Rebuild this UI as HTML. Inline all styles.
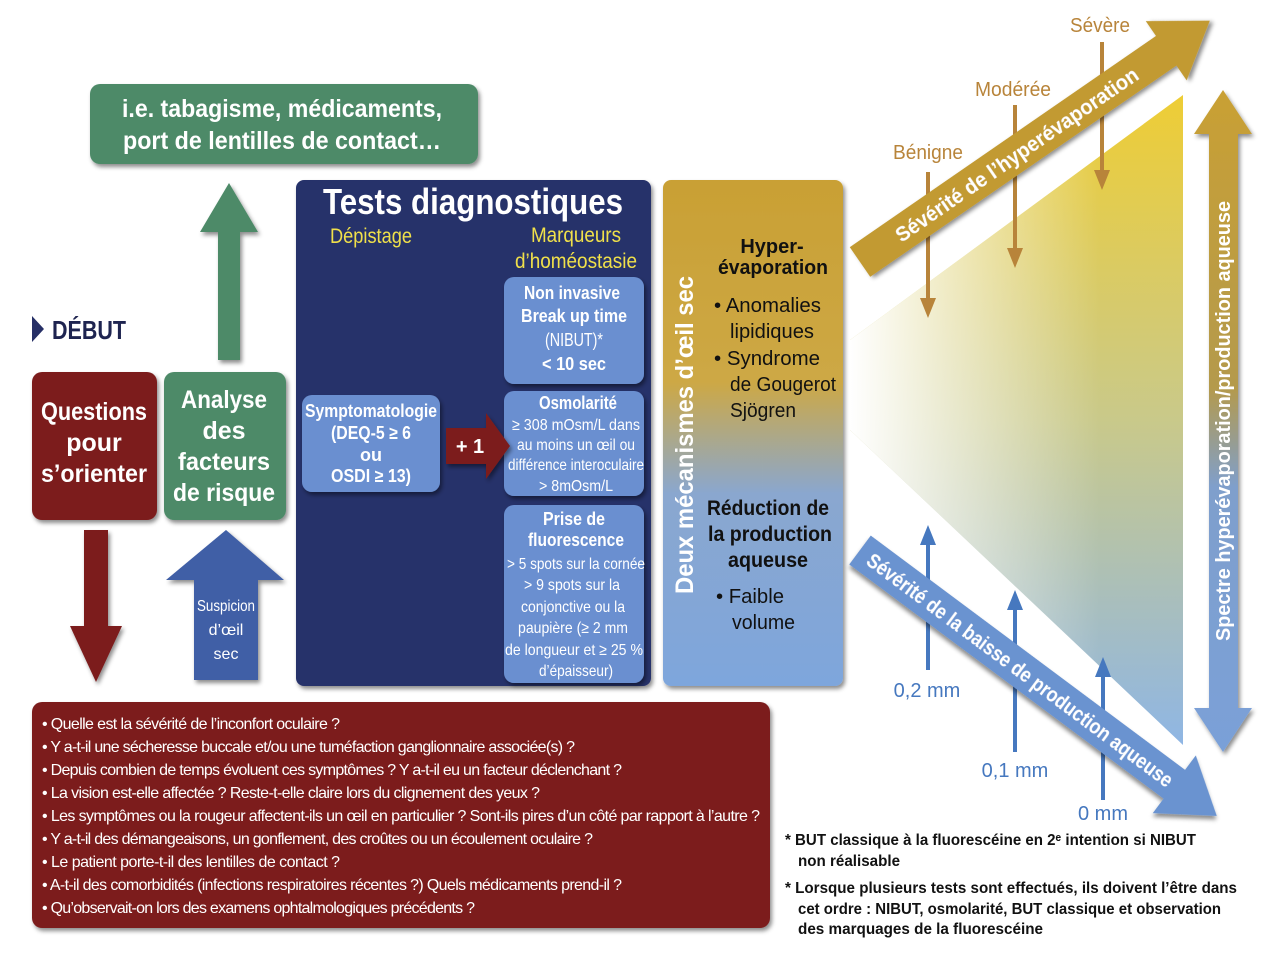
<!DOCTYPE html>
<html><head><meta charset="utf-8"><style>
html,body{margin:0;padding:0;background:#fff}
svg{display:block}
text{font-family:"Liberation Sans",sans-serif}
.w{fill:#fff;font-weight:bold}
.wn{fill:#fff}
</style></head><body>
<svg width="1280" height="955" viewBox="0 0 1280 955" xmlns="http://www.w3.org/2000/svg">
<defs>
<linearGradient id="vg" x1="0" y1="95" x2="0" y2="745" gradientUnits="userSpaceOnUse">
<stop offset="0" stop-color="#eecd35"/><stop offset="0.5" stop-color="#c9c98a"/><stop offset="1" stop-color="#8fb6e4"/></linearGradient>
<linearGradient id="hg" x1="850" y1="0" x2="1100" y2="0" gradientUnits="userSpaceOnUse">
<stop offset="0" stop-color="#fff" stop-opacity="1"/><stop offset="1" stop-color="#fff" stop-opacity="0"/></linearGradient>
<linearGradient id="mech" x1="0" y1="180" x2="0" y2="686" gradientUnits="userSpaceOnUse">
<stop offset="0" stop-color="#c9a034"/><stop offset="0.4" stop-color="#cda845"/><stop offset="0.62" stop-color="#8aa7cf"/><stop offset="1" stop-color="#7ea6dc"/></linearGradient>
<linearGradient id="dbl" x1="0" y1="90" x2="0" y2="752" gradientUnits="userSpaceOnUse">
<stop offset="0" stop-color="#c9a034"/><stop offset="0.45" stop-color="#b49a4c"/><stop offset="0.6" stop-color="#7f9fcc"/><stop offset="1" stop-color="#7aa0d8"/></linearGradient>
<filter id="sh" x="-10%" y="-10%" width="130%" height="130%"><feDropShadow dx="2" dy="3" stdDeviation="2" flood-opacity="0.45"/></filter>
</defs>

<!-- right triangle -->
<polygon points="850,340 1183,95 1183,745 850,430" fill="url(#vg)"/>
<polygon points="850,340 1183,95 1183,745 850,430" fill="url(#hg)"/>

<!-- green top box -->
<rect x="90" y="84" width="388" height="80" rx="10" fill="#4d8a68" filter="url(#sh)"/>
<text class="w" x="282" y="117" font-size="25" text-anchor="middle" textLength="320" lengthAdjust="spacingAndGlyphs">i.e. tabagisme, médicaments,</text>
<text class="w" x="282" y="149" font-size="25" text-anchor="middle" textLength="318" lengthAdjust="spacingAndGlyphs">port de lentilles de contact…</text>

<polygon points="218,360 240,360 240,232 258,232 229,183 200,232 218,232" fill="#4d8a68" filter="url(#sh)"/>

<polygon points="32,316 44,329 32,342" fill="#262f66"/>
<text x="52" y="339" font-size="26" font-weight="bold" fill="#1e2450" textLength="74" lengthAdjust="spacingAndGlyphs">DÉBUT</text>

<rect x="32" y="372" width="125" height="148" rx="10" fill="#7b1f1f" filter="url(#sh)"/>
<text class="w" font-size="25" text-anchor="middle"><tspan x="94" y="420" textLength="106" lengthAdjust="spacingAndGlyphs">Questions</tspan><tspan x="94" y="451">pour</tspan><tspan x="94" y="482" textLength="106" lengthAdjust="spacingAndGlyphs">s’orienter</tspan></text>

<rect x="164" y="372" width="122" height="148" rx="10" fill="#4d8a68" filter="url(#sh)"/>
<text class="w" font-size="25" text-anchor="middle"><tspan x="224" y="408" textLength="86" lengthAdjust="spacingAndGlyphs">Analyse</tspan><tspan x="224" y="439">des</tspan><tspan x="224" y="470" textLength="92" lengthAdjust="spacingAndGlyphs">facteurs</tspan><tspan x="224" y="501" textLength="102" lengthAdjust="spacingAndGlyphs">de risque</tspan></text>

<polygon points="84,530 108,530 108,626 122,626 96,682 70,626 84,626" fill="#7b1f1f" filter="url(#sh)"/>

<polygon points="194,680 258,680 258,580 284,580 226,530 166,580 194,580" fill="#3f5ea6" filter="url(#sh)"/>
<text class="wn" font-size="16" text-anchor="middle"><tspan x="226" y="611" textLength="58" lengthAdjust="spacingAndGlyphs">Suspicion</tspan><tspan x="226" y="635">d’œil</tspan><tspan x="226" y="659">sec</tspan></text>

<rect x="296" y="180" width="355" height="506" rx="8" fill="#27306a" filter="url(#sh)"/>
<text class="w" x="473" y="214" font-size="36" text-anchor="middle" textLength="300" lengthAdjust="spacingAndGlyphs">Tests diagnostiques</text>
<text x="371" y="243" font-size="21" fill="#f0e04a" text-anchor="middle" textLength="82" lengthAdjust="spacingAndGlyphs">Dépistage</text>
<text x="576" y="242" font-size="21" fill="#f0e04a" text-anchor="middle" textLength="90" lengthAdjust="spacingAndGlyphs">Marqueurs</text>
<text x="576" y="268" font-size="21" fill="#f0e04a" text-anchor="middle" textLength="122" lengthAdjust="spacingAndGlyphs">d’homéostasie</text>

<g fill="#6a8fd0" filter="url(#sh)">
<rect x="504" y="277" width="140" height="107" rx="10"/>
<rect x="504" y="391" width="140" height="105" rx="10"/>
<rect x="504" y="505" width="140" height="178" rx="10"/>
<rect x="302" y="395" width="138" height="97" rx="10"/>
</g>
<text class="w" font-size="18" text-anchor="middle"><tspan x="572" y="299" textLength="96" lengthAdjust="spacingAndGlyphs">Non invasive</tspan><tspan x="574" y="322" textLength="106" lengthAdjust="spacingAndGlyphs">Break up time</tspan></text>
<text class="wn" x="574" y="346" font-size="18" text-anchor="middle" textLength="58" lengthAdjust="spacingAndGlyphs">(NIBUT)*</text>
<text class="w" x="574" y="370" font-size="18" text-anchor="middle" textLength="64" lengthAdjust="spacingAndGlyphs">&lt; 10 sec</text>

<text class="w" x="578" y="409" font-size="18" text-anchor="middle" textLength="78" lengthAdjust="spacingAndGlyphs">Osmolarité</text>
<text class="wn" font-size="16" text-anchor="middle"><tspan x="576" y="430" textLength="128" lengthAdjust="spacingAndGlyphs">≥ 308 mOsm/L dans</tspan><tspan x="576" y="450" textLength="118" lengthAdjust="spacingAndGlyphs">au moins un œil ou</tspan><tspan x="576" y="470" textLength="136" lengthAdjust="spacingAndGlyphs">différence interoculaire</tspan><tspan x="576" y="491" textLength="74" lengthAdjust="spacingAndGlyphs">&gt; 8mOsm/L</tspan></text>

<text class="w" font-size="18" text-anchor="middle"><tspan x="574" y="525" textLength="62" lengthAdjust="spacingAndGlyphs">Prise de</tspan><tspan x="576" y="546" textLength="96" lengthAdjust="spacingAndGlyphs">fluorescence</tspan></text>
<text class="wn" font-size="16" text-anchor="middle"><tspan x="576" y="569" textLength="138" lengthAdjust="spacingAndGlyphs">&gt; 5 spots sur la cornée</tspan><tspan x="572" y="590" textLength="96" lengthAdjust="spacingAndGlyphs">&gt; 9 spots sur la</tspan><tspan x="573" y="612" textLength="104" lengthAdjust="spacingAndGlyphs">conjonctive ou la</tspan><tspan x="573" y="633" textLength="110" lengthAdjust="spacingAndGlyphs">paupière (≥ 2 mm</tspan><tspan x="574" y="655" textLength="138" lengthAdjust="spacingAndGlyphs">de longueur et ≥ 25 %</tspan><tspan x="576" y="676" textLength="74" lengthAdjust="spacingAndGlyphs">d’épaisseur)</tspan></text>

<text class="w" font-size="18" text-anchor="middle"><tspan x="371" y="417" textLength="132" lengthAdjust="spacingAndGlyphs">Symptomatologie</tspan><tspan x="371" y="439" textLength="80" lengthAdjust="spacingAndGlyphs">(DEQ-5 ≥ 6</tspan><tspan x="371" y="461">ou</tspan><tspan x="371" y="482" textLength="80" lengthAdjust="spacingAndGlyphs">OSDI ≥ 13)</tspan></text>

<polygon points="446,428 486,428 486,413 510,446 486,479 486,464 446,464" fill="#7b1f1f" filter="url(#sh)"/>
<text class="w" x="470" y="453" font-size="20" text-anchor="middle">+ 1</text>

<rect x="663" y="180" width="180" height="506" rx="8" fill="url(#mech)" filter="url(#sh)"/>
<text class="w" transform="translate(693,435) rotate(-90)" font-size="25" text-anchor="middle" textLength="318" lengthAdjust="spacingAndGlyphs">Deux mécanismes d’œil sec</text>
<text font-size="20" font-weight="bold" fill="#111" text-anchor="middle"><tspan x="772" y="253">Hyper-</tspan><tspan x="773" y="274" textLength="110" lengthAdjust="spacingAndGlyphs">évaporation</tspan></text>
<text font-size="20" fill="#111"><tspan x="714" y="312" textLength="107" lengthAdjust="spacingAndGlyphs">• Anomalies</tspan><tspan x="730" y="338" textLength="84" lengthAdjust="spacingAndGlyphs">lipidiques</tspan><tspan x="714" y="365" textLength="106" lengthAdjust="spacingAndGlyphs">• Syndrome</tspan><tspan x="730" y="391" textLength="106" lengthAdjust="spacingAndGlyphs">de Gougerot</tspan><tspan x="730" y="417" textLength="66" lengthAdjust="spacingAndGlyphs">Sjögren</tspan></text>
<text font-size="21" font-weight="bold" fill="#111" text-anchor="middle"><tspan x="768" y="515" textLength="122" lengthAdjust="spacingAndGlyphs">Réduction de</tspan><tspan x="770" y="541" textLength="124" lengthAdjust="spacingAndGlyphs">la production</tspan><tspan x="768" y="567" textLength="80" lengthAdjust="spacingAndGlyphs">aqueuse</tspan></text>
<text font-size="20" fill="#111"><tspan x="716" y="603" textLength="68" lengthAdjust="spacingAndGlyphs">• Faible</tspan><tspan x="732" y="629" textLength="63" lengthAdjust="spacingAndGlyphs">volume</tspan></text>

<!-- severity small arrows (behind diagonals) -->
<g fill="#b8843a">
<text x="928" y="159" font-size="20" text-anchor="middle" textLength="70" lengthAdjust="spacingAndGlyphs">Bénigne</text>
<text x="1013" y="96" font-size="20" text-anchor="middle" textLength="76" lengthAdjust="spacingAndGlyphs">Modérée</text>
<text x="1100" y="32" font-size="20" text-anchor="middle" textLength="60" lengthAdjust="spacingAndGlyphs">Sévère</text>
<rect x="926" y="172" width="4" height="130"/><polygon points="920,298 936,298 928,318"/>
<rect x="1013" y="105" width="4" height="148"/><polygon points="1007,248 1023,248 1015,268"/>
<rect x="1100" y="42" width="4" height="132"/><polygon points="1094,170 1110,170 1102,190"/>
</g>
<g fill="#4678bf">
<rect x="926" y="540" width="4" height="130"/><polygon points="920,545 936,545 928,525"/>
<rect x="1013" y="605" width="4" height="147"/><polygon points="1007,610 1023,610 1015,590"/>
<rect x="1101" y="672" width="4" height="128"/><polygon points="1095,677 1111,677 1103,657"/>
<text x="927" y="697" font-size="20" text-anchor="middle">0,2 mm</text>
<text x="1015" y="777" font-size="20" text-anchor="middle">0,1 mm</text>
<text x="1103" y="820" font-size="20" text-anchor="middle">0 mm</text>
</g>

<g transform="translate(860,262) rotate(-34.6)" filter="url(#sh)">
<polygon points="0,-18 372,-18 372,-36 425,0 372,36 372,18 0,18" fill="#c29a32"/>
<text class="w" x="190" y="8" font-size="21" text-anchor="middle" textLength="290" lengthAdjust="spacingAndGlyphs">Sévérité de l’hyperévaporation</text>
</g>
<g transform="translate(860,550) rotate(36.7)" filter="url(#sh)">
<polygon points="0,-18 392,-18 392,-36 445,0 392,36 392,18 0,18" fill="#6a93d0"/>
<text class="w" x="200" y="8" font-size="21" text-anchor="middle" textLength="376" lengthAdjust="spacingAndGlyphs">Sévérité de la baisse de production aqueuse</text>
</g>

<polygon points="1223,90 1252,134 1238,134 1238,708 1252,708 1223,752 1194,708 1209,708 1209,134 1194,134" fill="url(#dbl)" filter="url(#sh)"/>
<text class="w" transform="translate(1230,421) rotate(-90)" font-size="20" text-anchor="middle" textLength="440" lengthAdjust="spacingAndGlyphs">Spectre hyperévaporation/production aqueuse</text>

<rect x="32" y="702" width="738" height="226" rx="10" fill="#7b1f1f" filter="url(#sh)"/>
<text class="wn" font-size="16" lengthAdjust="spacingAndGlyphs">
<tspan x="42" y="729" textLength="298">• Quelle est la sévérité de l’inconfort oculaire ?</tspan>
<tspan x="42" y="752" textLength="533">• Y a-t-il une sécheresse buccale et/ou une tuméfaction ganglionnaire associée(s) ?</tspan>
<tspan x="42" y="775" textLength="580">• Depuis combien de temps évoluent ces symptômes ? Y a-t-il eu un facteur déclenchant ?</tspan>
<tspan x="42" y="798" textLength="498">• La vision est-elle affectée ? Reste-t-elle claire lors du clignement des yeux ?</tspan>
<tspan x="42" y="821" textLength="718">• Les symptômes ou la rougeur affectent-ils un œil en particulier ? Sont-ils pires d’un côté par rapport à l’autre ?</tspan>
<tspan x="42" y="844" textLength="551">• Y a-t-il des démangeaisons, un gonflement, des croûtes ou un écoulement oculaire ?</tspan>
<tspan x="42" y="867" textLength="298">• Le patient porte-t-il des lentilles de contact ?</tspan>
<tspan x="42" y="890" textLength="580">• A-t-il des comorbidités (infections respiratoires récentes ?) Quels médicaments prend-il ?</tspan>
<tspan x="42" y="913" textLength="433">• Qu’observait-on lors des examens ophtalmologiques précédents ?</tspan>
</text>

<g font-size="16" font-weight="bold" fill="#111">
<text x="785" y="845" textLength="411" lengthAdjust="spacingAndGlyphs">* BUT classique à la fluorescéine en 2ᵉ intention si NIBUT</text>
<text x="798" y="866" textLength="102" lengthAdjust="spacingAndGlyphs">non réalisable</text>
<text x="785" y="893" textLength="452" lengthAdjust="spacingAndGlyphs">* Lorsque plusieurs tests sont effectués, ils doivent l’être dans</text>
<text x="798" y="914" textLength="423" lengthAdjust="spacingAndGlyphs">cet ordre : NIBUT, osmolarité, BUT classique et observation</text>
<text x="798" y="934" textLength="245" lengthAdjust="spacingAndGlyphs">des marquages de la fluorescéine</text>
</g>
</svg>
</body></html>
